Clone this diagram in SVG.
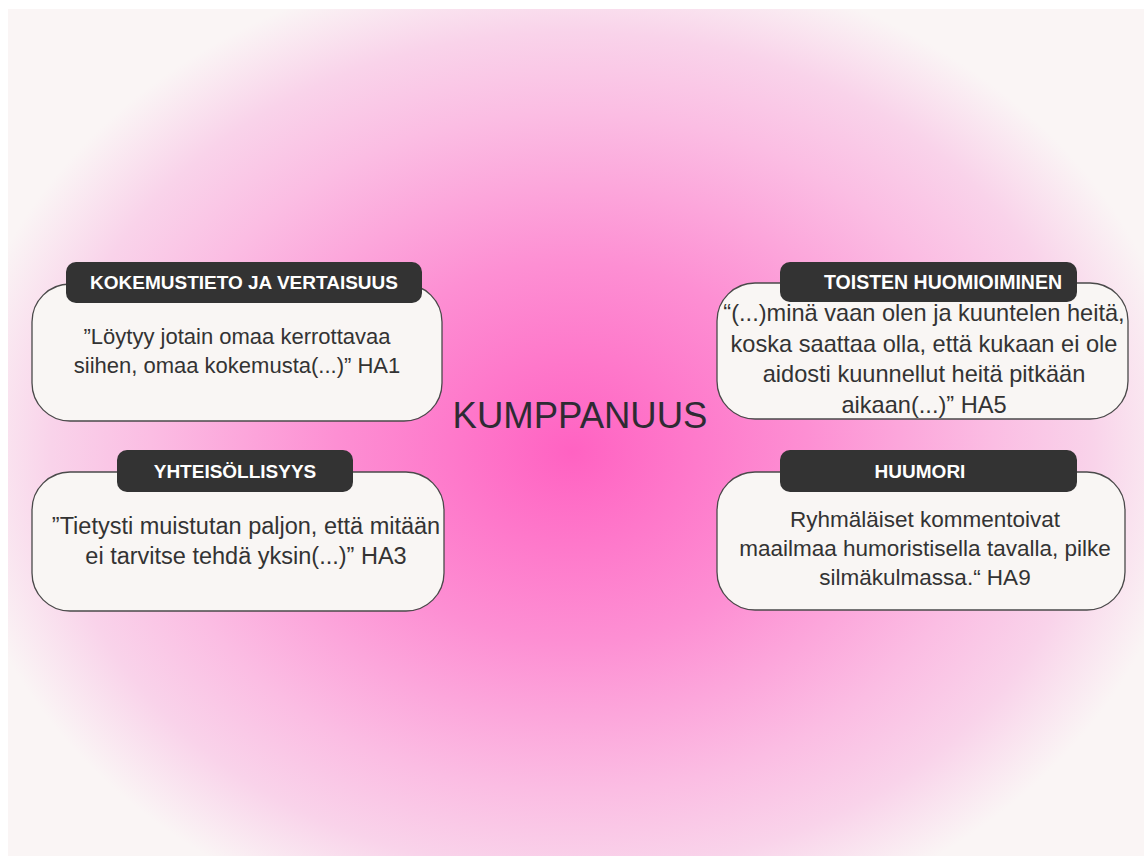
<svg xmlns="http://www.w3.org/2000/svg" width="1144" height="856" viewBox="0 0 1144 856">
  <defs>
    <radialGradient id="bg" gradientUnits="userSpaceOnUse" cx="0" cy="0" r="1" gradientTransform="translate(572 452) scale(620 500)">
      <stop offset="0" stop-color="#ff62c2"/>
      <stop offset="0.38" stop-color="#fd8fd3"/>
      <stop offset="0.68" stop-color="#fbbde3"/>
      <stop offset="0.84" stop-color="#f9d3ea"/>
      <stop offset="1" stop-color="#faf5f5"/>
    </radialGradient>
    <style>
      .box { fill: #f9f6f4; stroke: #4a4a4a; stroke-width: 1.3; }
      .pill { fill: #333333; }
      .pt { font-family: "Liberation Sans", Arial, sans-serif; font-weight: bold; font-size: 19px; fill: #ffffff; text-anchor: middle; }
      .bt { font-family: "Liberation Sans", Arial, sans-serif; font-size: 22px; fill: #333333; text-anchor: middle; }
      .title { font-family: "Liberation Sans", Arial, sans-serif; font-size: 36.5px; fill: #2e2b33; text-anchor: middle; }
    </style>
  </defs>
  <rect x="0" y="0" width="1144" height="856" fill="#ffffff"/>
  <rect x="8" y="9" width="1136" height="847" fill="url(#bg)"/>

  <g id="connectors"/>

  <g id="center">
    <text class="title" x="580" y="428">KUMPPANUUS</text>
  </g>

  <g id="node-kokemustieto">
    <rect class="box" x="32" y="284" width="410" height="137" rx="38"/>
    <rect class="pill" x="66" y="262" width="356" height="41" rx="10"/>
    <text class="pt" x="244" y="289">KOKEMUSTIETO JA VERTAISUUS</text>
    <text class="bt" x="237" y="344">”Löytyy jotain omaa kerrottavaa</text>
    <text class="bt" x="237" y="373">siihen, omaa kokemusta(...)” HA1</text>
  </g>

  <g id="node-yhteisollisyys">
    <rect class="box" x="32" y="472" width="412" height="139" rx="38"/>
    <rect class="pill" x="117" y="450" width="236" height="42" rx="10"/>
    <text class="pt" x="235" y="478">YHTEISÖLLISYYS</text>
    <text class="bt" x="246" y="534" style="font-size:23.5px">”Tietysti muistutan paljon, että mitään</text>
    <text class="bt" x="246" y="564" style="font-size:23.5px">ei tarvitse tehdä yksin(...)” HA3</text>
  </g>

  <g id="node-toisten">
    <rect class="box" x="717" y="283" width="411" height="136" rx="38"/>
    <rect class="pill" x="780" y="262" width="297" height="40" rx="10"/>
    <text class="pt" x="943" y="289" style="font-size:19.5px">TOISTEN HUOMIOIMINEN</text>
    <text class="bt" x="924" y="321" style="font-size:23.6px">“(...)minä vaan olen ja kuuntelen heitä,</text>
    <text class="bt" x="924" y="351.5" style="font-size:23.6px">koska saattaa olla, että kukaan ei ole</text>
    <text class="bt" x="924" y="382" style="font-size:23.6px">aidosti kuunnellut heitä pitkään</text>
    <text class="bt" x="924" y="412.5" style="font-size:23.6px">aikaan(...)” HA5</text>
  </g>

  <g id="node-huumori">
    <rect class="box" x="717" y="472" width="408" height="138" rx="38"/>
    <rect class="pill" x="780" y="450" width="297" height="42" rx="10"/>
    <text class="pt" x="920" y="478">HUUMORI</text>
    <text class="bt" x="925" y="527" style="font-size:22.5px">Ryhmäläiset kommentoivat</text>
    <text class="bt" x="925" y="556" style="font-size:22.5px">maailmaa humoristisella tavalla, pilke</text>
    <text class="bt" x="925" y="585" style="font-size:22.5px">silmäkulmassa.“ HA9</text>
  </g>
</svg>
